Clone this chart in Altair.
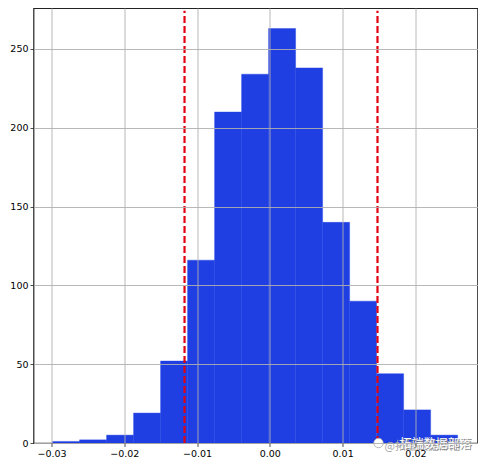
import altair as alt
import pandas as pd

bin_start = [-0.02985, -0.02614, -0.02243, -0.01872, -0.01501, -0.0113, -0.00759, -0.00388, -0.00017, 0.00354, 0.00725, 0.01096, 0.01467, 0.01838, 0.02209]
bin_end = [-0.02614, -0.02243, -0.01872, -0.01501, -0.0113, -0.00759, -0.00388, -0.00017, 0.00354, 0.00725, 0.01096, 0.01467, 0.01838, 0.02209, 0.0258]
counts = [1, 2, 5, 19, 52, 116, 210, 234, 263, 238, 140, 90, 44, 21, 5]
vlines = [-0.01172, 0.01479]
x_ticks = [-0.03, -0.02, -0.01, 0.0, 0.01, 0.02]
y_ticks = [0, 50, 100, 150, 200, 250]
watermark = "拓端数据部落"

df = pd.DataFrame({"a": bin_start, "b": bin_end, "c": counts})
df_lines = pd.DataFrame({"v": vlines, "y0": [0, 0], "y1": [274.3, 274.3]})

x_scale = alt.Scale(domain=[-0.03247, 0.02853], nice=False, zero=False)
y_scale = alt.Scale(domain=[0, 276], nice=False)

bars = alt.Chart(df).mark_rect(color="#1f3fe3", stroke="#1f3fe3", strokeWidth=0.4).encode(
    x=alt.X("a:Q", scale=x_scale,
            axis=alt.Axis(values=x_ticks, format=".2f", title=None, grid=True, zindex=1,
                          labelExpr="replace(datum.label, '-', '\u2212')")),
    x2="b:Q",
    y=alt.Y("y0:Q", scale=y_scale,
            axis=alt.Axis(values=y_ticks, title=None, grid=True, zindex=1)),
    y2="c:Q",
).transform_calculate(y0="0")

rules = alt.Chart(df_lines).mark_rule(color="#e0000f", strokeWidth=2.2, strokeDash=[7, 3]).encode(
    x=alt.X("v:Q", scale=x_scale), y=alt.Y("y0:Q", scale=y_scale), y2="y1:Q"
)

wm_df = pd.DataFrame({"t": [watermark], "h": ["@" + watermark]})
icon = alt.Chart(wm_df).mark_point(
    shape="circle", size=90, filled=True, fill="#ffffff", stroke="#aaaaaa", strokeWidth=0.8, opacity=1
).encode(x=alt.value(345), y=alt.value(435))
wm_grey = alt.Chart(wm_df).mark_text(
    font="Noto Sans CJK SC", fontSize=11, align="left", baseline="middle", color="#a5a5a5"
).encode(x=alt.value(351), y=alt.value(439), text="h:N")
wm_back = alt.Chart(wm_df).mark_text(
    font="Noto Sans CJK SC", fontSize=12, align="left", baseline="middle", color="#8a8a8a"
).encode(x=alt.value(367), y=alt.value(437), text="t:N")
wm_front = alt.Chart(wm_df).mark_text(
    font="Noto Sans CJK SC", fontSize=12, align="left", baseline="middle", color="#ffffff"
).encode(x=alt.value(366), y=alt.value(436), text="t:N")

chart = (bars + rules + icon + wm_grey + wm_back + wm_front).properties(
    width=444, height=435,
    autosize=alt.AutoSizeParams(type="none"),
    padding={"left": 25.5, "top": 0, "right": 0.5, "bottom": 15},
    background="#ffffff",
).configure_axis(
    labelFont="DejaVu Sans", labelFontSize=9.5, labelColor="#000000",
    gridColor="#b0b0b0", gridWidth=0.9, gridOpacity=1,
    domain=False, tickColor="#222222", tickSize=3.5, tickWidth=0.8, labelPadding=2,
).configure_view(stroke="#222222", strokeWidth=1.2)

chart.save("out.html", embed_options={"renderer": "svg", "actions": False})
